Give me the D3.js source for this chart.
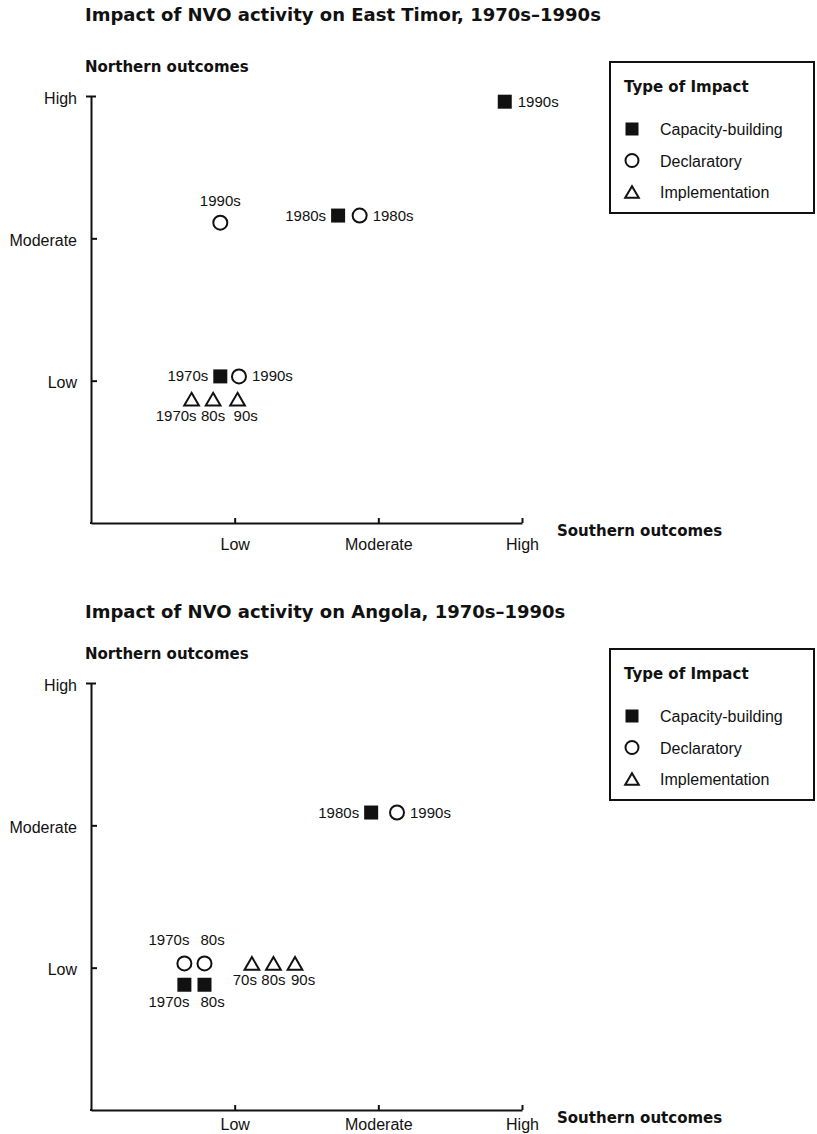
<!DOCTYPE html>
<html><head><meta charset="utf-8">
<script src="https://cdn.jsdelivr.net/npm/d3@7"></script>
<style>
html,body{margin:0;padding:0;background:#fff;}
svg{display:block;}
</style></head>
<body>
<svg id="chart" width="817" height="1134"></svg>
<script>
// ---------- DATA ----------
const levels = ["Low", "Moderate", "High"];
const levelValues = [1, 2, 3];
const impactTypes = ["Capacity-building", "Declaratory", "Implementation"];
const legendTitle = "Type of Impact";
const yTitle = "Northern outcomes";
const xTitle = "Southern outcomes";

const titleTimor = "Impact of NVO activity on East Timor, 1970s\u20131990s";
const timorType  = ["Capacity-building","Capacity-building","Capacity-building","Declaratory","Declaratory","Declaratory","Implementation","Implementation","Implementation"];
const timorLabel = ["1990s","1980s","1970s","1990s","1980s","1990s","1970s","80s","90s"];
const timorSouth = [2.88, 1.72, 0.90, 0.90, 1.87, 1.03, 0.70, 0.85, 1.02];
const timorNorth = [2.96, 2.16, 1.03, 2.11, 2.16, 1.03, 0.87, 0.87, 0.87];
const timorLabelSide = ["R","L","L","A","R","R","BL","B","BR"];

const titleAngola = "Impact of NVO activity on Angola, 1970s\u20131990s";
const angolaType  = ["Capacity-building","Capacity-building","Capacity-building","Declaratory","Declaratory","Declaratory","Implementation","Implementation","Implementation"];
const angolaLabel = ["1980s","1970s","80s","1990s","1970s","80s","70s","80s","90s"];
const angolaSouth = [1.95, 0.65, 0.79, 2.13, 0.65, 0.79, 1.12, 1.27, 1.42];
const angolaNorth = [2.09, 0.88, 0.88, 2.09, 1.03, 1.03, 1.03, 1.03, 1.03];
const angolaLabelSide = ["L","BL","BR","R","AL","AR","BL","B","BR"];

// ---------- DRAW ----------
const svg = d3.select("#chart");
const INK = "#111";
const SANS = "'Liberation Sans', Arial, sans-serif";
const BOLD = "'DejaVu Sans', sans-serif";

function drawMarker(g, type, size) {
  if (type === "Capacity-building") {
    g.append("rect").attr("x", -size/2).attr("y", -size/2).attr("width", size).attr("height", size).attr("fill", INK);
  } else if (type === "Declaratory") {
    g.append("circle").attr("r", size/2).attr("fill", "#fff").attr("stroke", INK).attr("stroke-width", 2);
  } else {
    const h = size * 0.9, w = size * 1.05;
    g.append("path").attr("d", `M0,${-h/2}L${w/2},${h/2}L${-w/2},${h/2}Z`)
      .attr("fill", "#fff").attr("stroke", INK).attr("stroke-width", 2).attr("stroke-linejoin", "miter");
  }
}

const placement = {
  R:  {anchor: "start",  dx: 13, dy: 5},
  L:  {anchor: "end",    dx: -12, dy: 5},
  A:  {anchor: "middle", dx: 0, dy: -17},
  B:  {anchor: "middle", dx: 0, dy: 22},
  BL: {anchor: "end",    dx: 5, dy: 22},
  BR: {anchor: "start",  dx: -4, dy: 22},
  AL: {anchor: "end",    dx: 5, dy: -18},
  AR: {anchor: "start",  dx: -4, dy: -18}
};

function drawChart(top, titleOffset, xLabelPad, title, types, labels, south, north, sides) {
  const g = svg.append("g").attr("transform", `translate(0,${top})`);
  const x = d3.scaleLinear().domain([0, 3]).range([91, 522]);
  const y = d3.scaleLinear().domain([0, 3]).range([523, 96]);

  g.append("text").attr("x", 85).attr("y", 21 + titleOffset).attr("font-family", BOLD).attr("font-weight", "bold")
    .attr("font-size", 18).attr("fill", INK).text(title);
  g.append("text").attr("x", 85).attr("y", 72).attr("font-family", BOLD).attr("font-weight", "bold")
    .attr("font-size", 15).attr("fill", INK).text(yTitle);
  g.append("text").attr("x", 557).attr("y", 536).attr("font-family", BOLD).attr("font-weight", "bold")
    .attr("font-size", 15).attr("fill", INK).text(xTitle);

  const fmt = v => levels[levelValues.indexOf(v)];
  const yAxis = d3.axisLeft(y).tickValues(levelValues).tickFormat(fmt).tickSizeInner(-6).tickSizeOuter(0).tickPadding(14);
  const xAxis = d3.axisBottom(x).tickValues(levelValues).tickFormat(fmt).tickSizeInner(-5).tickSizeOuter(0).tickPadding(xLabelPad);

  const ya = g.append("g").attr("transform", `translate(${x(0)},0)`).call(yAxis);
  const xa = g.append("g").attr("transform", `translate(0,${y(0)})`).call(xAxis);
  [ya, xa].forEach(a => {
    a.select(".domain").attr("stroke", INK).attr("stroke-width", 2);
    a.selectAll(".tick line").attr("stroke", INK).attr("stroke-width", 2);
    a.selectAll(".tick text").attr("font-family", SANS).attr("font-size", 16).attr("fill", INK);
  });
  ya.selectAll(".tick text").attr("dy", "0.45em");
  // T-cap at top of the northern axis
  ya.selectAll(".tick").filter(d => d === 3).select("line").attr("x1", -5).attr("x2", 5);
  g.append("rect").attr("x", x(0) - 1).attr("y", y(0) - 1).attr("width", 2).attr("height", 2).attr("fill", INK);

  const pts = types.map((t, i) => ({type: t, label: labels[i], sx: south[i], ny: north[i], side: sides[i]}));
  const pg = g.append("g").selectAll("g").data(pts).join("g")
    .attr("transform", d => `translate(${x(d.sx)},${y(d.ny)})`);
  pg.each(function(d) { drawMarker(d3.select(this), d.type, 14); });
  pg.append("text")
    .attr("x", d => placement[d.side].dx)
    .attr("y", d => placement[d.side].dy)
    .attr("text-anchor", d => placement[d.side].anchor)
    .attr("font-family", SANS).attr("font-size", 15).attr("fill", INK)
    .text(d => d.label);

  // legend
  const lg = g.append("g");
  lg.append("rect").attr("x", 610).attr("y", 62).attr("width", 204).attr("height", 151)
    .attr("fill", "#fff").attr("stroke", INK).attr("stroke-width", 2);
  lg.append("text").attr("x", 624).attr("y", 92).attr("font-family", BOLD).attr("font-weight", "bold")
    .attr("font-size", 15).attr("fill", INK).text(legendTitle);
  const legY = d3.scalePoint().domain(impactTypes).range([129, 192]);
  const li = lg.selectAll("g.li").data(impactTypes).join("g").attr("class", "li")
    .attr("transform", d => `translate(632,${legY(d)})`);
  li.each(function(d) { drawMarker(d3.select(this), d, 13); });
  li.append("text").attr("x", 28).attr("y", 6).attr("font-family", SANS).attr("font-size", 16).attr("fill", INK).text(d => d);
}

drawChart(0, 0, 16, titleTimor, timorType, timorLabel, timorSouth, timorNorth, timorLabelSide);
drawChart(587, 10, 9, titleAngola, angolaType, angolaLabel, angolaSouth, angolaNorth, angolaLabelSide);
</script>
</body></html>
